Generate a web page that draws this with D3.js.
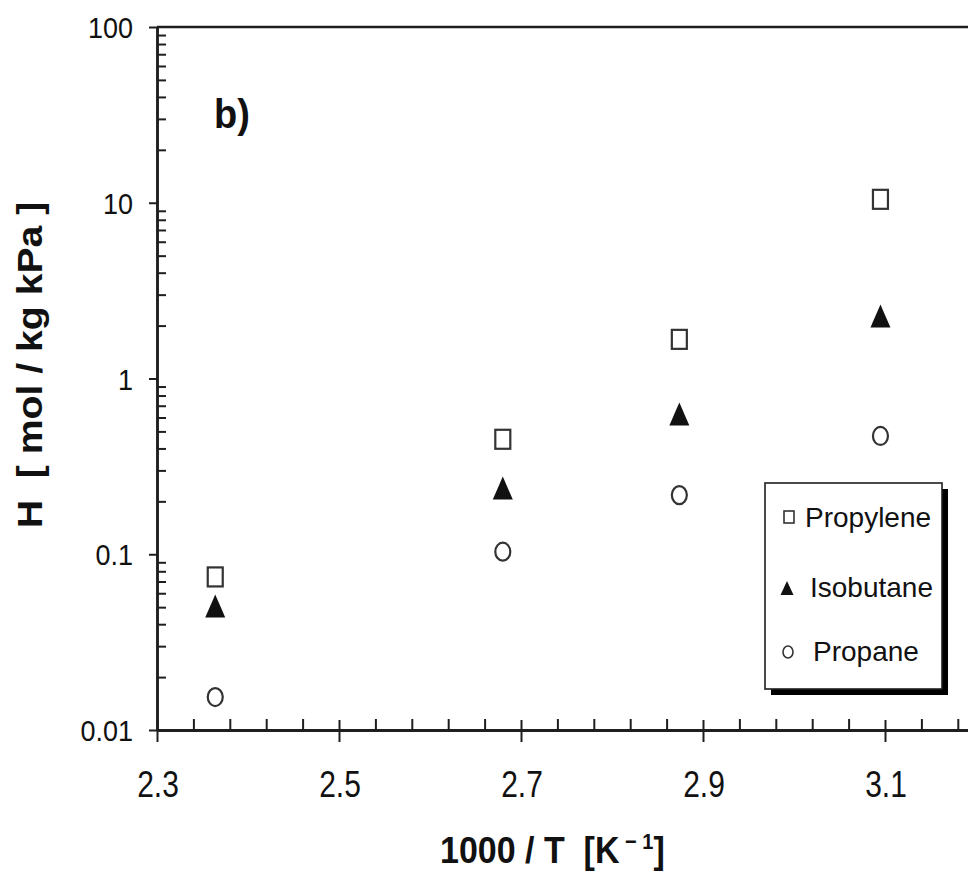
<!DOCTYPE html>
<html><head><meta charset="utf-8">
<script src="https://cdn.jsdelivr.net/npm/d3@7"></script>
<style>
body{margin:0;background:#fff}
svg{display:block}
text{font-family:"Liberation Sans",Arial,Helvetica,sans-serif;fill:#111}
</style>
</head><body>
<svg id="c" width="968" height="875"></svg>
<script>
// ---- data ----
const xValues   = [2.364, 2.680, 2.874, 3.095];
const propylene = [0.0743, 0.451, 1.67, 10.46];
const isobutane = [0.0508, 0.238, 0.628, 2.27];
const propane   = [0.0154, 0.1034, 0.217, 0.471];
const seriesNames = ["Propylene", "Isobutane", "Propane"];
const xTicks = [2.3, 2.5, 2.7, 2.9, 3.1, 3.3];
const xTickLabels = ["2.3", "2.5", "2.7", "2.9", "3.1"];
const yTicks = [0.01, 0.1, 1, 10, 100];
const yTickLabels = ["0.01", "0.1", "1", "10", "100"];
const xTitle = "1000 / T";
const yTitle = "H  [ mol / kg kPa ]";
const panelLabel = "b)";

// ---- layout ----
const svg = d3.select("#c");
const x = d3.scaleLinear().domain([2.3, 3.3]).range([157, 1067]);
const y = d3.scaleLog().domain([0.01, 100]).range([730, 27]);
const axisColor = "#1e1e1e";
const markColor = "#333";

// minor ticks
const xMinor = d3.range(2.3, 3.3001, 0.04).map(v => +v.toFixed(2)).filter(v => !xTicks.some(t => Math.abs(t - v) < 1e-6));
const yMinor = [];
for (let e = -2; e < 2; e++) for (let k = 2; k <= 9; k++) yMinor.push(k * Math.pow(10, e));

// top frame
svg.append("line")
  .attr("x1", x(2.3)).attr("x2", x(3.3))
  .attr("y1", y(100)).attr("y2", y(100))
  .attr("stroke", axisColor).attr("stroke-width", 2.5);

// x axis (major ticks below)
const gx = svg.append("g").attr("transform", `translate(0,${y(0.01)})`)
  .call(d3.axisBottom(x).tickValues(xTicks).tickSize(12).tickSizeOuter(0).tickFormat(""));
// x minor ticks (inside, above)
const gxm = svg.append("g").attr("transform", `translate(0,${y(0.01)})`)
  .call(d3.axisTop(x).tickValues(xMinor).tickSize(11).tickSizeOuter(0).tickFormat(""));
// major ticks also cross the axis upward
const gxc = svg.append("g").attr("transform", `translate(0,${y(0.01)})`)
  .call(d3.axisTop(x).tickValues(xTicks).tickSize(10).tickSizeOuter(0).tickFormat(""));

// y axis (major ticks outside left)
const gy = svg.append("g").attr("transform", `translate(${x(2.3)},0)`)
  .call(d3.axisLeft(y).tickValues(yTicks).tickSize(8).tickSizeOuter(0).tickFormat(""));
const gym = svg.append("g").attr("transform", `translate(${x(2.3)},0)`)
  .call(d3.axisRight(y).tickValues(yMinor).tickSize(9).tickSizeOuter(0).tickFormat(""));

[gx, gxm, gxc, gy, gym].forEach(g => {
  g.selectAll("path.domain").attr("stroke", axisColor).attr("stroke-width", 2.5);
  g.selectAll(".tick line").attr("stroke", axisColor).attr("stroke-width", 2);
});

// tick labels (only those visible in the picture)
svg.append("g").selectAll("text").data(xTickLabels).join("text")
  .attr("transform", (d, i) => `translate(${x(xTicks[i]) + 1},797) scale(1,1.2)`)
  .attr("text-anchor", "middle")
  .style("font-size", "30px")
  .text(d => d);

svg.append("g").selectAll("text").data(yTicks).join("text")
  .attr("transform", d => `translate(133,${y(d) + 11}) scale(1,1.1)`)
  .attr("text-anchor", "end")
  .style("font-size", "27px")
  .text((d, i) => yTickLabels[i]);

// axis titles
const xt = svg.append("text")
  .attr("transform", "translate(440,863) scale(1,1.1)")
  .attr("xml:space", "preserve")
  .style("font-size", "34px").style("font-weight", "bold");
xt.append("tspan").text(xTitle + "  [K");
xt.append("tspan").attr("dy", -13).style("font-size", "20px").text(" \u2212 ");
xt.append("tspan").style("font-size", "20px").text("1");
xt.append("tspan").attr("dy", 13).text("]");

svg.append("text")
  .attr("transform", "translate(42,365) rotate(-90) scale(1.12,1)")
  .attr("text-anchor", "middle")
  .attr("xml:space", "preserve")
  .style("font-size", "35px").style("font-weight", "bold")
  .text(yTitle);

// panel label
svg.append("text")
  .attr("transform", "translate(214,128) scale(1,1.05)")
  .style("font-size", "38px").style("font-weight", "bold")
  .text(panelLabel);

// ---- markers ----
const tri = (w, h) => `M0,${-h / 2}L${w / 2},${h / 2}L${-w / 2},${h / 2}Z`;
const pts = s => xValues.map((xv, i) => ({ x: xv, v: s[i] }));

svg.append("g").selectAll("rect").data(pts(propylene)).join("rect")
  .attr("x", d => x(d.x) - 7.5).attr("y", d => y(d.v) - 9.5)
  .attr("width", 15).attr("height", 19)
  .attr("fill", "#fff").attr("stroke", markColor).attr("stroke-width", 2.2);

svg.append("g").selectAll("path").data(pts(isobutane)).join("path")
  .attr("transform", d => `translate(${x(d.x)},${y(d.v)})`)
  .attr("d", tri(20, 23))
  .attr("fill", "#111");

svg.append("g").selectAll("ellipse").data(pts(propane)).join("ellipse")
  .attr("cx", d => x(d.x)).attr("cy", d => y(d.v))
  .attr("rx", 7.5).attr("ry", 9)
  .attr("fill", "#fff").attr("stroke", markColor).attr("stroke-width", 2.2);

// ---- legend ----
const lg = svg.append("g");
lg.append("rect").attr("x", 771).attr("y", 489).attr("width", 177).attr("height", 206).attr("fill", "#000");
lg.append("rect").attr("x", 765).attr("y", 483).attr("width", 177).attr("height", 206)
  .attr("fill", "#fff").attr("stroke", axisColor).attr("stroke-width", 1.6);

const legendRows = [
  { name: seriesNames[0], cy: 517, tx: 805, by: 527 },
  { name: seriesNames[1], cy: 588, tx: 810, by: 597 },
  { name: seriesNames[2], cy: 652, tx: 813, by: 661 }
];
lg.append("rect").attr("x", 784).attr("y", legendRows[0].cy - 6).attr("width", 10).attr("height", 12)
  .attr("fill", "#fff").attr("stroke", markColor).attr("stroke-width", 1.6);
lg.append("path").attr("transform", `translate(787,${legendRows[1].cy})`).attr("d", tri(13, 14)).attr("fill", "#111");
lg.append("ellipse").attr("cx", 788).attr("cy", legendRows[2].cy).attr("rx", 5).attr("ry", 6)
  .attr("fill", "#fff").attr("stroke", markColor).attr("stroke-width", 1.6);

lg.selectAll("text.lt").data(legendRows).join("text").attr("class", "lt")
  .attr("x", d => d.tx).attr("y", d => d.by)
  .style("font-size", "28px")
  .text(d => d.name);
</script>
</body></html>
